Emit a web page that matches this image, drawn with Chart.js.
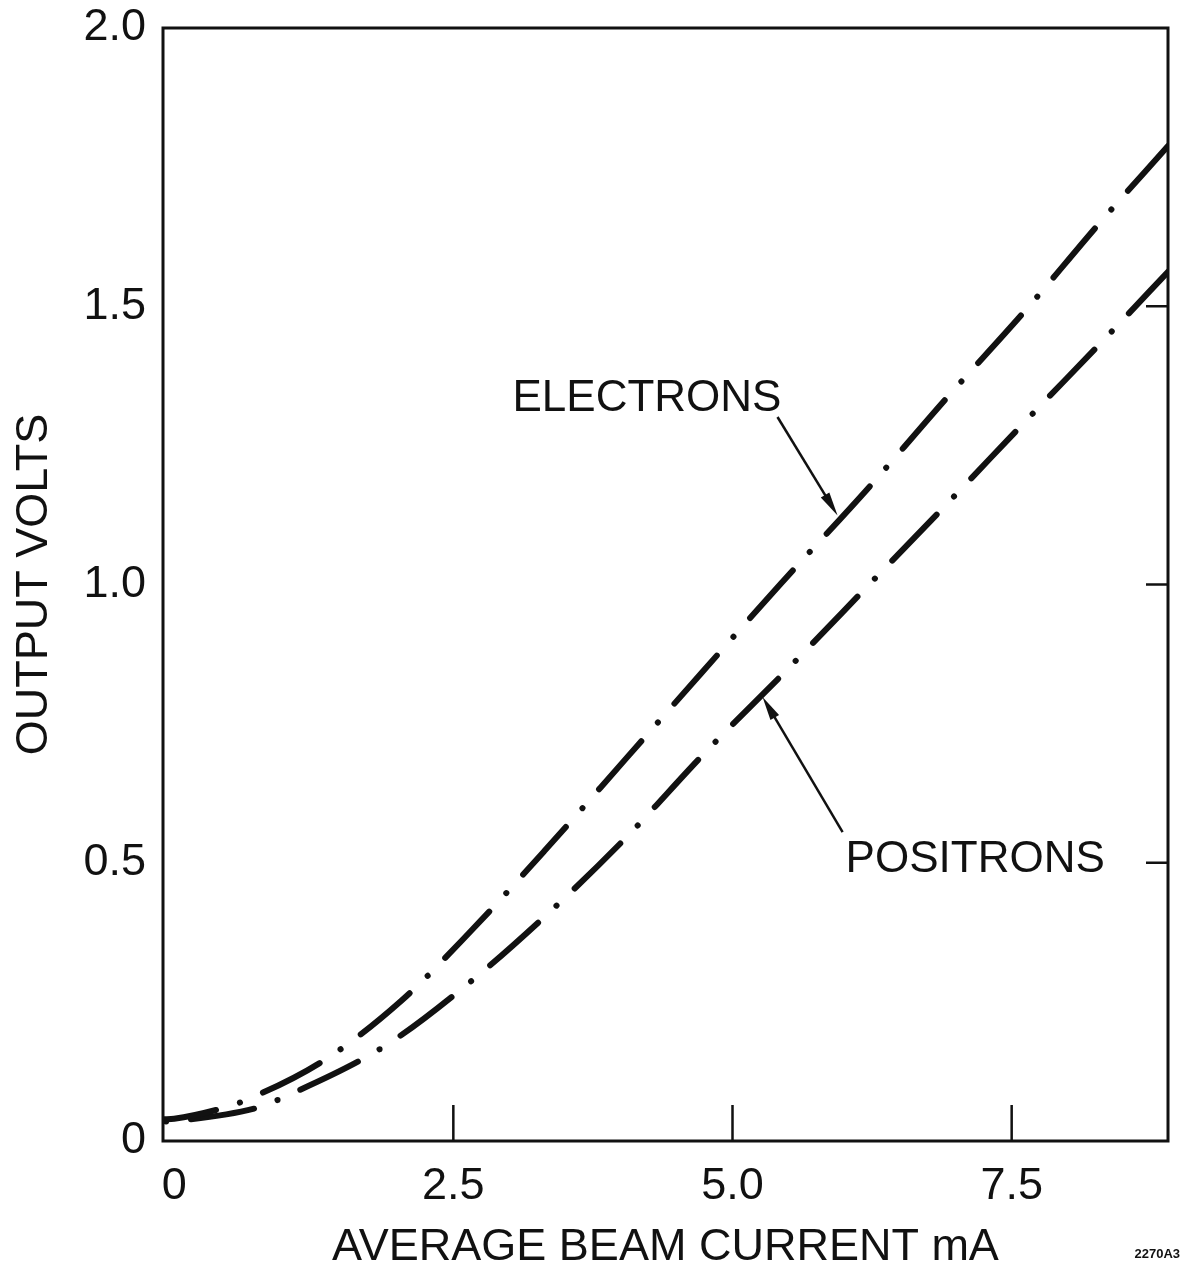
<!DOCTYPE html>
<html>
<head>
<meta charset="utf-8">
<script src="https://cdn.jsdelivr.net/npm/chart.js@4.4.1/dist/chart.umd.min.js"></script>
<style>
    html, body { margin: 0; padding: 0; background: #fff; }
    canvas { display: block; }
</style>
</head>
<body>
<canvas id="chart" width="1186" height="1276"></canvas>
<script>
// values (mA -> volts)
const electronX = [-0.1, 0, 0.47, 0.60, 1.335, 2.034, 2.670, 3.315, 4.050, 4.722, 5.430, 6.201, 6.935, 7.625, 8.289, 8.9];
const electronY = [0.039, 0.040, 0.061, 0.070, 0.144, 0.252, 0.380, 0.521, 0.688, 0.841, 1.001, 1.170, 1.339, 1.493, 1.650, 1.788];

const positronX = [-0.1, 0, 0.77, 0.941, 1.873, 2.652, 3.360, 4.041, 4.740, 5.484, 6.210, 6.935, 7.679, 8.360, 8.9];
const positronY = [0.035, 0.036, 0.061, 0.075, 0.169, 0.286, 0.411, 0.544, 0.695, 0.846, 0.997, 1.148, 1.305, 1.447, 1.562];

const xTicks = [0, 2.5, 5.0, 7.5];
const xTickLabels = ["0", "2.5", "5.0", "7.5"];
const yTicks = [0, 0.5, 1.0, 1.5, 2.0];
const yTickLabels = ["0", "0.5", "1.0", "1.5", "2.0"];

// inner tick marks (bottom and right edges only)
const xInnerTicks = [2.5, 5.0, 7.5];
const yInnerTicks = [0.5, 1.0, 1.5];

const FONT = '"Liberation Sans", Arial, sans-serif';
const INK = "#111";

const toPoints = (xs, ys) => xs.map((x, i) => ({ x, y: ys[i] }));

// curve labels with their arrows, in data units
const callouts = [
    { text: "ELECTRONS", tx: 3.03, ty: 1.312, from: [5.403, 1.301], to: [5.941, 1.124] },
    { text: "POSITRONS", tx: 6.013, ty: 0.483, from: [5.986, 0.555], to: [5.269, 0.798] }
];

const whiteBg = {
    id: "whiteBg",
    beforeDraw(chart) {
        const c = chart.ctx;
        c.save();
        c.fillStyle = "#fff";
        c.fillRect(0, 0, chart.width, chart.height);
        c.restore();
    }
};

const frame = {
    id: "frame",
    afterDatasetsDraw(chart) {
        const c = chart.ctx;
        const { left, right, top, bottom } = chart.chartArea;
        const xs = chart.scales.x, ys = chart.scales.y;

        c.save();
        c.strokeStyle = INK;
        c.lineWidth = 3;
        c.strokeRect(left, top, right - left, bottom - top);

        c.lineWidth = 2.5;
        c.beginPath();
        xInnerTicks.forEach(v => {
            const px = xs.getPixelForValue(v);
            c.moveTo(px, bottom);
            c.lineTo(px, bottom - 36);
        });
        yInnerTicks.forEach(v => {
            const py = ys.getPixelForValue(v);
            c.moveTo(right, py);
            c.lineTo(right - 22, py);
        });
        c.stroke();

        // callouts
        c.fillStyle = INK;
        c.font = "44px " + FONT;
        c.textBaseline = "alphabetic";
        c.textAlign = "left";
        callouts.forEach(o => {
            c.fillText(o.text, xs.getPixelForValue(o.tx), ys.getPixelForValue(o.ty));

            const x1 = xs.getPixelForValue(o.from[0]), y1 = ys.getPixelForValue(o.from[1]);
            const x2 = xs.getPixelForValue(o.to[0]), y2 = ys.getPixelForValue(o.to[1]);
            const a = Math.atan2(y2 - y1, x2 - x1);
            c.lineWidth = 2.5;
            c.beginPath();
            c.moveTo(x1, y1);
            c.lineTo(x2 - 18 * Math.cos(a), y2 - 18 * Math.sin(a));
            c.stroke();

            c.beginPath();
            c.moveTo(x2, y2);
            c.lineTo(x2 - 24 * Math.cos(a) + 5 * Math.sin(a), y2 - 24 * Math.sin(a) - 5 * Math.cos(a));
            c.lineTo(x2 - 24 * Math.cos(a) - 5 * Math.sin(a), y2 - 24 * Math.sin(a) + 5 * Math.cos(a));
            c.closePath();
            c.fill();
        });

        c.font = "bold 13px " + FONT;
        c.textAlign = "right";
        c.fillText("2270A3", 1180, 1258);
        c.restore();
    }
};

const lineStyle = {
    showLine: true,
    borderColor: INK,
    borderWidth: 6,
    borderDash: [64, 25, 0.1, 25],
    borderCapStyle: "round",
    pointRadius: 0,
    cubicInterpolationMode: "monotone",
    fill: false
};

new Chart(document.getElementById("chart"), {
    type: "scatter",
    data: {
        datasets: [
            { label: "ELECTRONS", data: toPoints(electronX, electronY), borderDashOffset: 10, ...lineStyle },
            { label: "POSITRONS", data: toPoints(positronX, positronY), borderDashOffset: 86, ...lineStyle }
        ]
    },
    options: {
        responsive: false,
        animation: false,
        layout: { padding: { left: 0, right: 18, top: 28, bottom: 0 } },
        plugins: {
            legend: { display: false },
            tooltip: { enabled: false }
        },
        scales: {
            x: {
                type: "linear",
                min: -0.1,
                max: 8.9,
                afterFit: s => { s.height = 135; s.paddingLeft = 0; s.paddingRight = 0; },
                afterBuildTicks: s => { s.ticks = xTicks.map(v => ({ value: v })); },
                grid: { display: false, drawTicks: false },
                border: { display: false },
                ticks: {
                    padding: 19,
                    color: INK,
                    font: { family: FONT, size: 45 },
                    callback: v => xTickLabels[xTicks.indexOf(v)]
                },
                title: {
                    display: true,
                    text: "AVERAGE BEAM CURRENT mA",
                    color: INK,
                    font: { family: FONT, size: 45 },
                    padding: { top: 0, bottom: 1 }
                }
            },
            y: {
                type: "linear",
                min: 0,
                max: 2.0,
                afterFit: s => { s.width = 163; s.paddingTop = 0; s.paddingBottom = 0; },
                afterBuildTicks: s => { s.ticks = yTicks.map(v => ({ value: v })); },
                grid: { display: false, drawTicks: false },
                border: { display: false },
                ticks: {
                    padding: 17,
                    color: INK,
                    font: { family: FONT, size: 45 },
                    callback: v => yTickLabels[yTicks.indexOf(v)]
                },
                title: {
                    display: true,
                    text: "OUTPUT VOLTS",
                    color: INK,
                    font: { family: FONT, size: 45 },
                    padding: { top: 8, bottom: 0 }
                }
            }
        }
    },
    plugins: [whiteBg, frame]
});
</script>
</body>
</html>
